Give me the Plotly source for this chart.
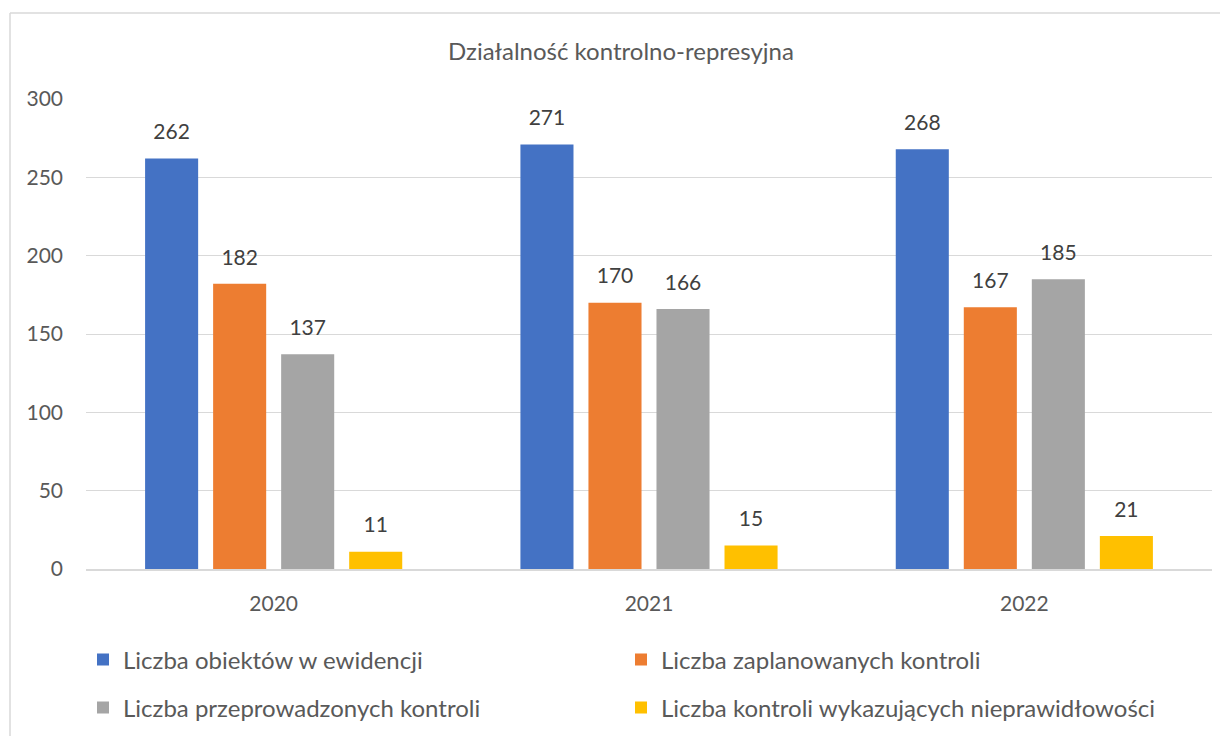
import plotly.graph_objects as go

years = ["2020", "2021", "2022"]
series_names = [
    "Liczba obiektów w ewidencji",
    "Liczba zaplanowanych kontroli",
    "Liczba przeprowadzonych kontroli",
    "Liczba kontroli wykazujących nieprawidłowości",
]
obiekty = [262, 271, 268]
zaplanowane = [182, 170, 167]
przeprowadzone = [137, 166, 185]
nieprawidlowosci = [11, 15, 21]
colors = ["#4472C4", "#ED7D31", "#A5A5A5", "#FFC000"]
y_ticks = [0, 50, 100, 150, 200, 250, 300]

FONT = "Lato"
OFF = 8  # page body margin
W, H = 1228, 736
# plot area in reference pixels
PL, PR, PT, PB = 86, 1212, 99, 569
L, T = PL - OFF, PT - OFF
R = W - (PR - OFF)
B = H - (PB - OFF)
pw, ph = W - L - R, H - T - B
def px(x): return (x - OFF - L) / pw
def py(y): return (H - B - (y - OFF)) / ph

fig = go.Figure()
legends = ["legend", "legend", "legend2", "legend2"]
for name, vals, col, lg in zip(series_names, [obiekty, zaplanowane, przeprowadzone, nieprawidlowosci], colors, legends):
    fig.add_trace(go.Bar(
        x=years, y=vals, name=name, marker_color=col, marker_line_width=0,
        text=[f"<span style='font-size:21px'>{v}</span><br> " for v in vals],
        textposition="outside", cliponaxis=False, constraintext="none",
        textfont=dict(family=FONT, size=11, color="#404040"),
        legend=lg,
    ))

leg_common = dict(orientation="h", xanchor="left", yanchor="middle",
                  entrywidth=493, entrywidthmode="pixels",
                  font=dict(family=FONT, size=24, color="#595959"), itemwidth=30,
                  bgcolor="rgba(0,0,0,0)")

fig.update_layout(
    width=W, height=H,
    margin=dict(l=L, r=R, t=T, b=B, autoexpand=False),
    paper_bgcolor="white", plot_bgcolor="white",
    barmode="group", bargap=0.275, bargroupgap=0.22,
    title=dict(text="Działalność kontrolno-represyjna", x=(621 - OFF) / W, xref="container", xanchor="center",
               y=1 - (52 - OFF) / H, yanchor="middle", yref="container",
               font=dict(family=FONT, size=24, color="#595959")),
    font=dict(family=FONT, color="#595959"),
    xaxis=dict(showgrid=False, showline=True, linecolor="#d9d9d9", linewidth=1.5,
               tickfont=dict(size=21, color="#595959"), ticks="", ticklabelstandoff=15),
    yaxis=dict(range=[0, 300], tickvals=y_ticks, showgrid=True, gridcolor="#d9d9d9", gridwidth=1.2,
               zeroline=False, showline=False, tickfont=dict(size=21, color="#595959"),
               ticklabelstandoff=22),
    legend=dict(x=px(83), y=py(660), **leg_common),
    legend2=dict(x=px(83), y=py(708), **leg_common),
    showlegend=True,
    shapes=[
        dict(type="line", xref="paper", yref="paper", x0=px(10), x1=px(10), y0=py(13), y1=py(780),
             line=dict(color="#d9d9d9", width=1.5)),
        dict(type="line", xref="paper", yref="paper", x0=px(10), x1=px(1260), y0=py(13), y1=py(13),
             line=dict(color="#d9d9d9", width=1.5)),
    ],
)

fig.write_html("out.html")
